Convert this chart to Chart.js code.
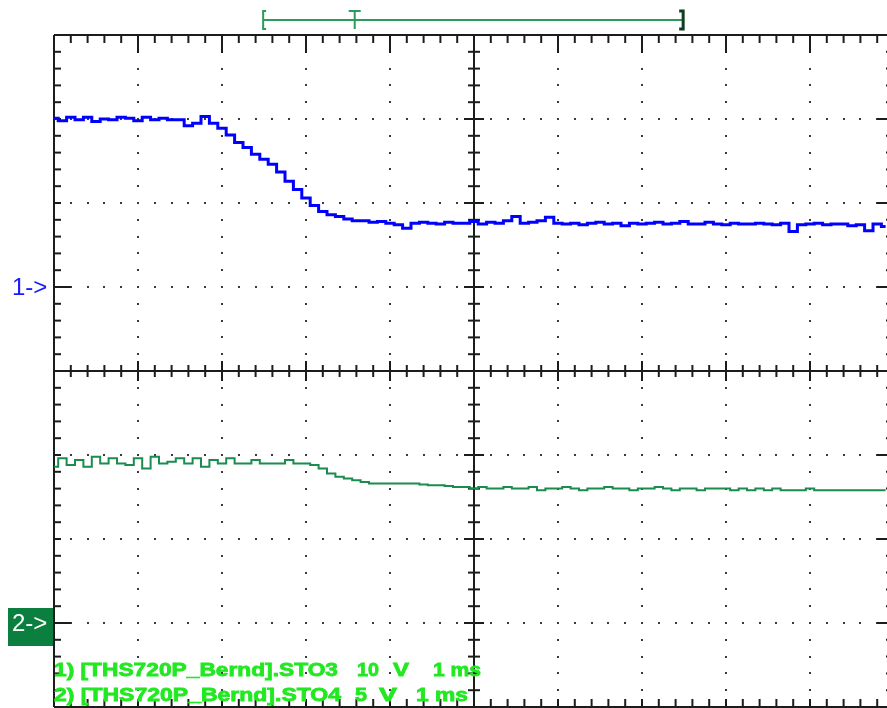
<!DOCTYPE html>
<html>
<head>
<meta charset="utf-8">
<script src="https://cdn.jsdelivr.net/npm/chart.js@4.4.1/dist/chart.umd.min.js"></script>
<style>
  html, body { margin: 0; padding: 0; background: #fff; }
  #wrap { width: 887px; height: 708px; position: relative; }
</style>
</head>
<body>
<div id="wrap"><canvas id="scope"></canvas></div>
<script>
// sample period of the stored records (ms)
const sampleMs = 0.1;

// channel 1 (STO3), volts, one value per sample
const ch1Volts = [
  20.1, 19.8, 20.2, 19.9, 20.2, 19.7, 20.0, 19.9, 20.2, 20.1,
  19.8, 20.2, 19.9, 20.1, 19.9, 19.9, 19.2, 19.5, 20.3, 19.5,
  18.9, 18.1, 17.2, 16.6, 15.8, 15.2, 14.6, 13.7, 12.6, 11.6,
  10.6, 9.7, 9.0, 8.6, 8.4, 8.1, 7.9, 7.9, 7.7, 7.8,
  7.6, 7.4, 7.0, 7.6, 7.7, 7.6, 7.5, 7.7, 7.6, 7.6,
  7.8, 7.5, 7.7, 7.6, 7.9, 8.4, 7.6, 7.7, 7.9, 8.3,
  7.6, 7.5, 7.6, 7.4, 7.6, 7.7, 7.5, 7.6, 7.3, 7.6,
  7.5, 7.6, 7.7, 7.5, 7.6, 7.8, 7.5, 7.5, 7.7, 7.5,
  7.4, 7.6, 7.5, 7.5, 7.6, 7.5, 7.4, 7.6, 6.6, 7.4,
  7.5, 7.6, 7.4, 7.5, 7.5, 7.3, 7.4, 6.7, 7.5, 7.2
];

// channel 2 (STO4), volts
const ch2Volts = [
  9.3, 9.8, 9.4, 9.7, 9.3, 9.9, 9.5, 9.8, 9.5, 9.4,
  9.8, 9.2, 9.9, 9.5, 9.6, 9.8, 9.5, 9.8, 9.3, 9.7,
  9.5, 9.8, 9.5, 9.5, 9.7, 9.5, 9.5, 9.5, 9.7, 9.5,
  9.5, 9.4, 9.2, 8.9, 8.7, 8.6, 8.5, 8.4, 8.3, 8.3,
  8.3, 8.3, 8.3, 8.3, 8.25, 8.2, 8.2, 8.15, 8.1, 8.1,
  8.0, 8.1, 8.0, 8.0, 8.1, 8.0, 8.0, 8.1, 7.9, 8.0,
  8.0, 8.1, 8.0, 7.9, 8.0, 8.0, 8.1, 8.0, 8.0, 7.9,
  8.0, 8.0, 8.1, 8.0, 7.9, 8.0, 8.0, 7.9, 8.0, 8.0,
  8.0, 7.9, 8.0, 7.9, 8.0, 7.9, 8.0, 7.9, 7.9, 7.9,
  8.0, 7.9, 7.9, 7.9, 7.9, 7.9, 7.9, 7.9, 7.9, 7.9
];

// vertical settings: volts per division and ground marker (divisions from centre)
const ch1VoltsPerDiv = 10;
const ch1Ground = 1;
const ch2VoltsPerDiv = 5;
const ch2Ground = -3;

// screen: 10 x 8 divisions, 1 ms/div, 5 minor steps per division
const divsX = 10;
const divsY = 4;
const minor = 5;

// record window bracket above the screen (ms)
const bracketMs = [2.49, 3.58, 7.49];

const legendLines = [
  ['1) [THS720P_Bernd].STO3', '10', 'V', '1 ms'],
  ['2) [THS720P_Bernd].STO4', '5', 'V', '1 ms']
];

const ch1Points = ch1Volts.map((v, i) => ({ x: i * sampleMs, y: ch1Ground + v / ch1VoltsPerDiv }));
const ch2Points = ch2Volts.map((v, i) => ({ x: i * sampleMs, y: ch2Ground + v / ch2VoltsPerDiv }));

const scopeGrid = {
  id: 'scopeGrid',
  beforeDatasetsDraw(chart) {
    const ctx = chart.ctx;
    const xs = chart.scales.x, ys = chart.scales.y;
    const X = v => xs.getPixelForValue(v);
    const Y = v => ys.getPixelForValue(v);
    const left = X(0), right = X(divsX), top = Y(divsY), bottom = Y(-divsY);
    const cx = X(divsX / 2), cy = Y(0);
    ctx.save();

    // dotted division lines
    ctx.fillStyle = '#3a3a3a';
    for (let d = 1; d < divsX; d++) {
      if (d === divsX / 2) continue;
      for (let k = 1; k < divsY * 2 * minor; k++) {
        ctx.fillRect(Math.round(X(d)) - 1, Math.round(Y(-divsY + k / minor)) - 1, 2, 2);
      }
    }
    for (let d = -divsY + 1; d < divsY; d++) {
      if (d === 0) continue;
      for (let k = 1; k < divsX * minor; k++) {
        ctx.fillRect(Math.round(X(k / minor)) - 1, Math.round(Y(d)) - 1, 2, 2);
      }
    }

    ctx.strokeStyle = '#1c1c1c';
    ctx.lineWidth = 2;
    const line = (x1, y1, x2, y2) => { ctx.beginPath(); ctx.moveTo(x1, y1); ctx.lineTo(x2, y2); ctx.stroke(); };

    // frame
    line(left, top, right, top);
    line(left, bottom, right, bottom);
    line(left, top, left, bottom);
    line(right, top, right, bottom);
    // centre cross
    line(left, cy, right, cy);
    line(cx, top, cx, bottom);

    // ticks along horizontal edges and centre line
    for (let k = 1; k < divsX * minor; k++) {
      const x = X(k / minor);
      const major = k % minor === 0;
      line(x, top, x, top + (major ? 18 : 8));
      line(x, bottom, x, bottom - 8);
      const h = major ? 10 : 6;
      line(x, cy - h, x, cy + h);
    }
    // ticks along vertical edges and centre line
    for (let k = 1; k < divsY * 2 * minor; k++) {
      const v = -divsY + k / minor;
      const y = Y(v);
      const major = k % minor === 0;
      line(left, y, left + 7, y);
      line(right, y, right - (major ? 17 : 8), y);
      const h = major ? 10 : 6;
      line(cx - h, y, cx + h, y);
    }
    // ground markers
    line(left, Y(ch1Ground), left + 17, Y(ch1Ground));
    line(left, Y(ch2Ground), left + 17, Y(ch2Ground));
    ctx.restore();
  },
  afterDraw(chart) {
    const ctx = chart.ctx;
    const xs = chart.scales.x, ys = chart.scales.y;
    const X = v => xs.getPixelForValue(v);
    const Y = v => ys.getPixelForValue(v);
    ctx.save();

    // record bracket
    const by = 20, bt = 11, bb = 29;
    const b0 = X(bracketMs[0]), b1 = X(bracketMs[1]), b2 = X(bracketMs[2]);
    ctx.strokeStyle = '#2b9a5c';
    ctx.lineWidth = 2;
    ctx.beginPath();
    ctx.moveTo(b0, by); ctx.lineTo(b2, by);
    ctx.moveTo(b0 + 3, bt); ctx.lineTo(b0, bt); ctx.lineTo(b0, bb); ctx.lineTo(b0 + 3, bb);
    ctx.moveTo(b1 - 6, bt); ctx.lineTo(b1 + 6, bt);
    ctx.moveTo(b1, bt); ctx.lineTo(b1, bb);
    ctx.stroke();
    ctx.strokeStyle = '#123d22';
    ctx.lineWidth = 3;
    ctx.beginPath();
    ctx.moveTo(b2 - 4, bt); ctx.lineTo(b2, bt); ctx.lineTo(b2, bb); ctx.lineTo(b2 - 4, bb);
    ctx.stroke();

    // channel markers
    ctx.textBaseline = 'middle';
    ctx.font = '24px "Liberation Sans", Arial, sans-serif';
    ctx.fillStyle = '#1a1aff';
    ctx.fillText('1->', 12, Y(ch1Ground) + 1);
    const my = Y(ch2Ground);
    ctx.fillStyle = '#0b7f3f';
    ctx.fillRect(8, my - 15, 45, 38);
    ctx.fillStyle = '#ffffff';
    ctx.fillText('2->', 12, my + 1);

    // record captions, stretched like the scope's bitmap font
    const fit = (str, x0, x1, base) => {
      const w = ctx.measureText(str).width;
      ctx.save();
      ctx.translate(x0, base);
      ctx.scale((x1 - x0) / w, 1);
      ctx.fillText(str, 0, 0);
      ctx.strokeText(str, 0, 0);
      ctx.restore();
    };
    ctx.textBaseline = 'alphabetic';
    ctx.font = 'bold 19px "Liberation Sans", Arial, sans-serif';
    ctx.fillStyle = '#22e822';
    ctx.strokeStyle = '#22e822';
    ctx.lineWidth = 0.8;
    const spans = [
      [[54, 338], [357, 379], [393, 409], [433, 481]],
      [[54, 341], [355, 367], [379, 397], [416, 468]]
    ];
    const bases = [676, 701];
    legendLines.forEach((parts, r) => {
      parts.forEach((p, i) => fit(p, spans[r][i][0], spans[r][i][1], bases[r]));
    });
    ctx.restore();
  }
};

new Chart(document.getElementById('scope'), {
  type: 'line',
  data: {
    datasets: [
      {
        label: 'STO3',
        data: ch1Points,
        borderColor: '#0000ff',
        borderWidth: 3,
        pointRadius: 0,
        stepped: 'middle',
        fill: false
      },
      {
        label: 'STO4',
        data: ch2Points,
        borderColor: '#1a8c4e',
        borderWidth: 2,
        pointRadius: 0,
        stepped: 'middle',
        fill: false
      }
    ]
  },
  options: {
    responsive: true,
    maintainAspectRatio: false,
    animation: false,
    layout: { padding: { left: 54, top: 35, right: 0, bottom: 1 } },
    scales: {
      x: { type: 'linear', display: false, min: 0, max: 833 / 84 },
      y: { type: 'linear', display: false, min: -divsY, max: divsY }
    },
    plugins: {
      legend: { display: false },
      tooltip: { enabled: false }
    }
  },
  plugins: [scopeGrid]
});
</script>
</body>
</html>
